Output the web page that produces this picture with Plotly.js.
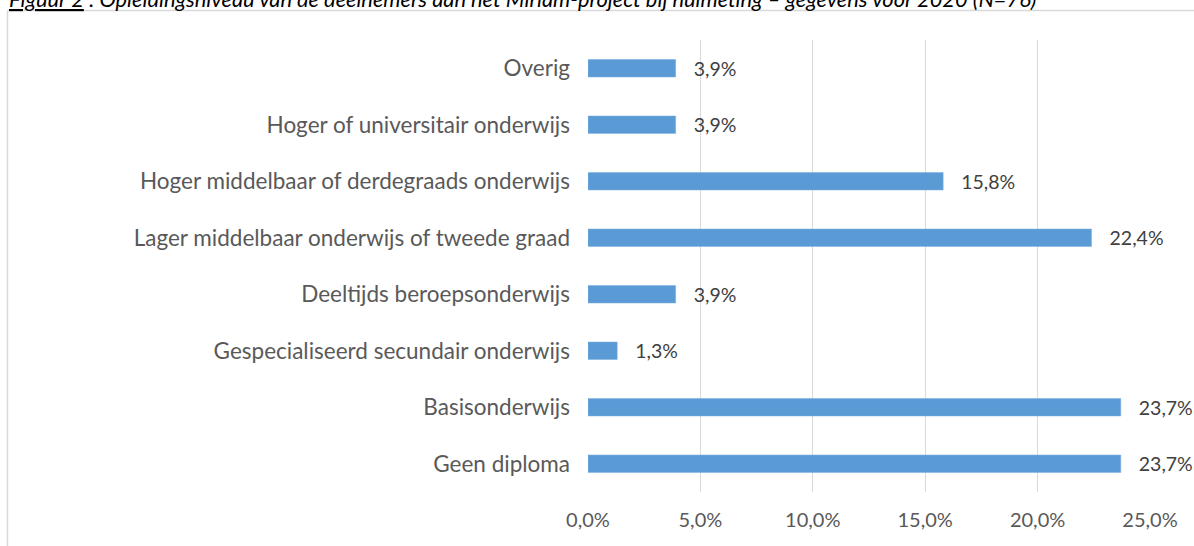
<!DOCTYPE html>
<html>
<head>
<meta charset="utf-8">
<script src="https://cdn.plot.ly/plotly-3.0.1.min.js"></script>
<style>
html,body{margin:0;padding:0;background:#fff;overflow:hidden;}
#chart{width:1194px;height:546px;}
</style>
</head>
<body>
<div id="chart"></div>
<script>
// Data (bottom to top, as drawn)
const categories = [
  "Geen diploma",
  "Basisonderwijs",
  "Gespecialiseerd secundair onderwijs",
  "Deeltijds beroepsonderwijs",
  "Lager middelbaar onderwijs of tweede graad",
  "Hoger middelbaar of derdegraads onderwijs",
  "Hoger of universitair onderwijs",
  "Overig"
];
const percentages = [23.7, 23.7, 1.3, 3.9, 22.4, 15.8, 3.9, 3.9];
const tickValues = [0, 5, 10, 15, 20, 25];
const tickLabels = ["0,0%", "5,0%", "10,0%", "15,0%", "20,0%", "25,0%"];
const titleText = "<u>Figuur 2</u> : Opleidingsniveau van de deelnemers aan het Miriam-project bij nulmeting – gegevens voor 2020 (N=76)";

const W = 1194, H = 546;
const L = 588, R = 44, T = 39.6, B = 54;
const plotW = W - L - R, plotH = H - T - B;
const px2x = p => (p - L) / plotW;
const px2y = p => (H - B - p) / plotH;

const font = "Lato, Open Sans, sans-serif";

const trace = {
  type: "bar",
  orientation: "h",
  y: categories,
  x: percentages,
  marker: {color: "#5b9bd5", line: {color: "#7fb1e0", width: 0.5}},
  text: percentages.map(v => v.toFixed(1).replace(".", ",") + "%"),
  texttemplate: "\u00a0\u00a0\u00a0%{text}",
  textposition: "outside",
  constraintext: "none",
  cliponaxis: false,
  textfont: {family: font, size: 19.5, color: "#404040"},
  hoverinfo: "skip"
};

const layout = {
  width: W, height: H,
  margin: {l: L, r: R, t: T, b: B, pad: 0},
  paper_bgcolor: "#fff",
  plot_bgcolor: "#fff",
  showlegend: false,
  bargap: 0.69,
  font: {family: font, color: "#595959"},
  xaxis: {
    range: [0, 25],
    tickvals: tickValues,
    ticktext: tickLabels,
    showgrid: true,
    gridcolor: "#d9d9d9",
    gridwidth: 1,
    zeroline: false,
    showline: false,
    ticks: "",
    tickfont: {family: font, size: 20, color: "#595959"},
    ticklabelstandoff: 14,
    fixedrange: true
  },
  yaxis: {
    type: "category",
    categoryorder: "array",
    categoryarray: categories,
    range: [-0.5, 7.5],
    showgrid: false,
    zeroline: false,
    showline: false,
    ticks: "",
    tickfont: {family: font, size: 22.5, color: "#595959"},
    ticklabelstandoff: 17,
    fixedrange: true
  },
  shapes: [
    {type: "line", xref: "paper", yref: "paper",
     x0: px2x(7.5), x1: px2x(1200), y0: px2y(10), y1: px2y(10),
     line: {color: "#d9d9d9", width: 1.5}},
    {type: "line", xref: "paper", yref: "paper",
     x0: px2x(7.5), x1: px2x(7.5), y0: px2y(10), y1: px2y(560),
     line: {color: "#d9d9d9", width: 1.5}}
  ],
  annotations: [
    {xref: "paper", yref: "paper", x: px2x(7), y: px2y(14), xanchor: "left", yanchor: "bottom",
     text: "<i>" + titleText + "</i>", showarrow: false,
     font: {family: font, size: 21.8, color: "#000"}}
  ]
};

Plotly.newPlot("chart", [trace], layout, {displayModeBar: false, staticPlot: true});
</script>
</body>
</html>
